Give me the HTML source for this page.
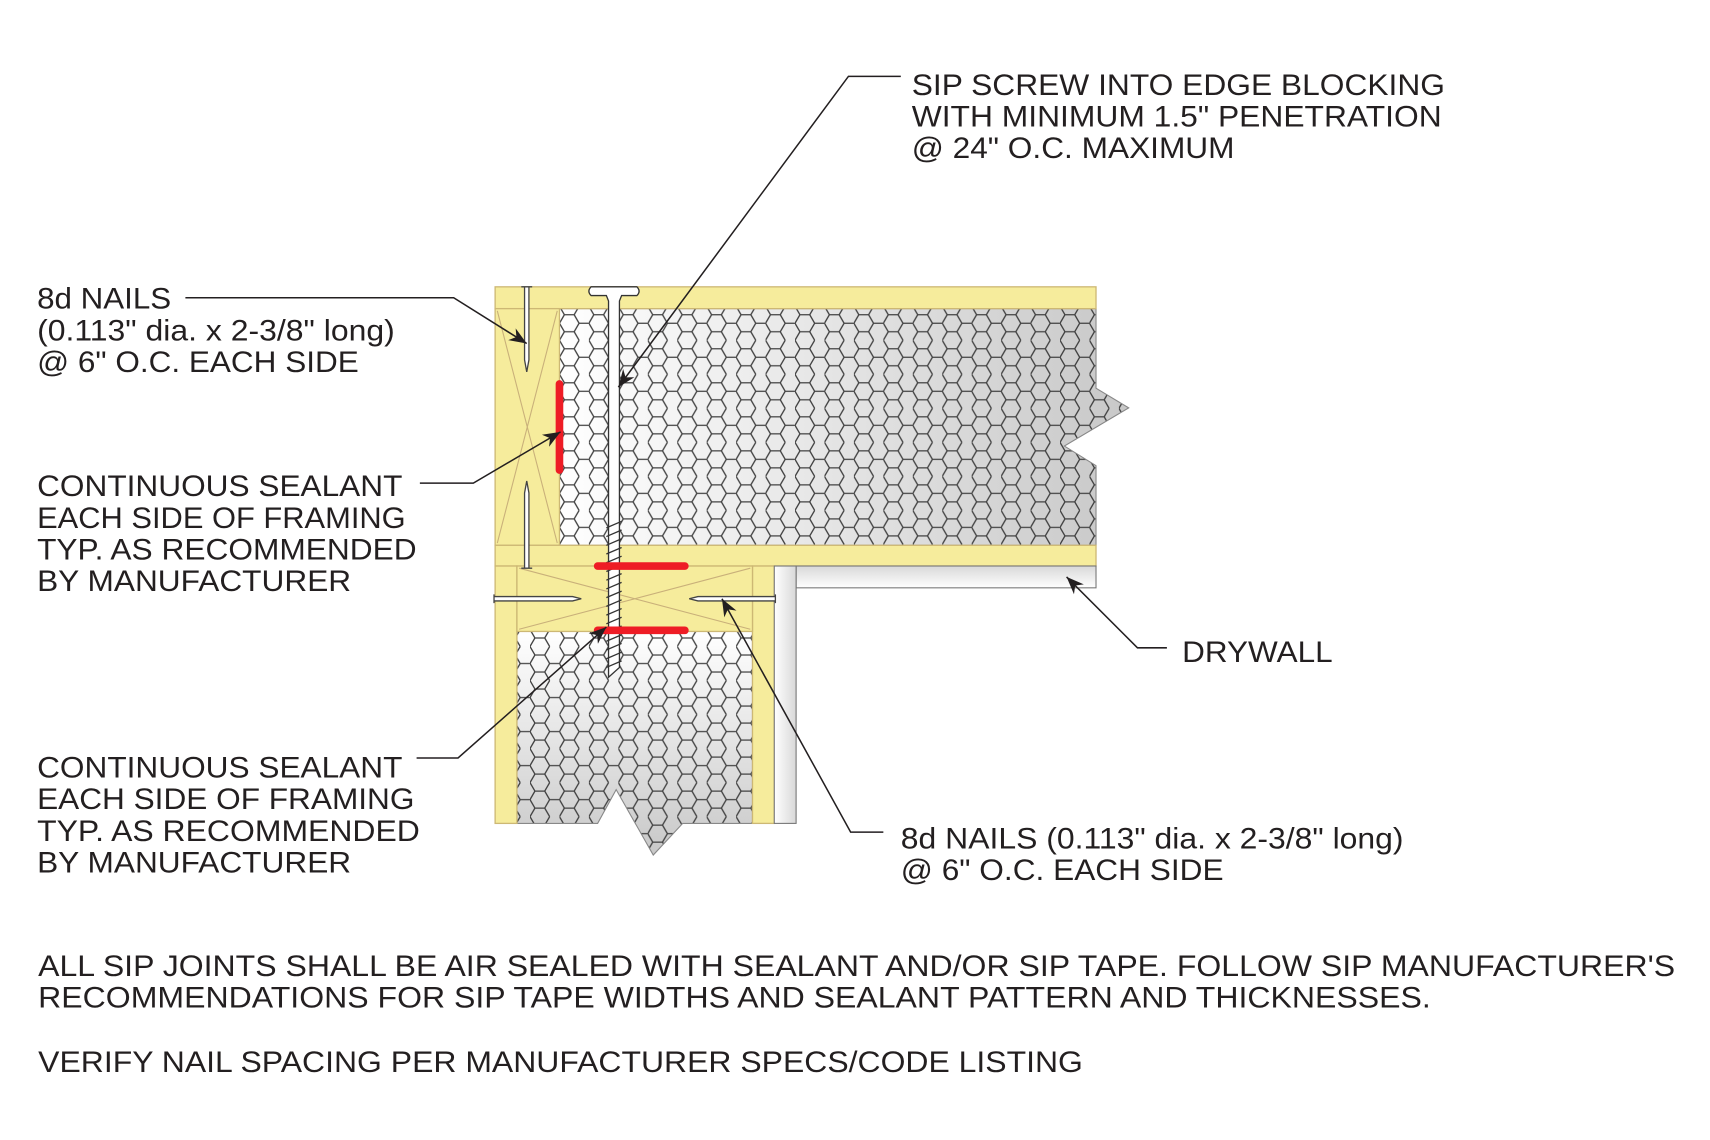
<!DOCTYPE html>
<html><head><meta charset="utf-8"><style>
html,body{margin:0;padding:0;background:#fff;}
svg{display:block;}
text{font-family:"Liberation Sans",Arial,sans-serif;font-size:27px;fill:#231f20;}
</style></head><body>
<svg width="1710" height="1140" viewBox="0 0 1568 1045.3" preserveAspectRatio="none" xmlns="http://www.w3.org/2000/svg">
<defs>
<pattern id="hex" width="27" height="31.2" patternUnits="userSpaceOnUse">
<path d="M0,0 L4.5,7.8 L13.5,7.8 L18,0 M13.5,7.8 L18,15.6 L13.5,23.4 L4.5,23.4 L0,15.6 L4.5,7.8 M18,15.6 L27,15.6 M13.5,23.4 L18,31.2 M4.5,23.4 L0,31.2" fill="none" stroke="#404040" stroke-width="1.2"/>
</pattern>
<linearGradient id="fg" x1="0" x2="1" y1="0" y2="0"><stop offset="0" stop-color="#ffffff"/><stop offset="1" stop-color="#c8c8c8"/></linearGradient>
<linearGradient id="fg2" x1="0" x2="0" y1="0" y2="1"><stop offset="0" stop-color="#ffffff"/><stop offset="1" stop-color="#c8c8c8"/></linearGradient>
<linearGradient id="dw" x1="0" x2="0" y1="0" y2="1"><stop offset="0" stop-color="#d8d8d8"/><stop offset="1" stop-color="#ffffff"/></linearGradient>
<linearGradient id="dwv" x1="0" x2="1" y1="0" y2="0"><stop offset="0" stop-color="#ffffff"/><stop offset="1" stop-color="#d8d8d8"/></linearGradient>
<marker id="ar" viewBox="0 0 10 10" refX="10" refY="5" markerWidth="16" markerHeight="16" orient="auto-start-reverse" markerUnits="userSpaceOnUse"><path d="M0,1 L10,5 L0,9 L3,5 z" fill="#231f20"/></marker>
</defs>

<path d="M513,283 L1005,283 L1005,356 L1035,374 L976,409 L1005,427 L1005,500 L513,500 Z" fill="url(#fg)"/>
<path d="M513,283 L1005,283 L1005,356 L1035,374 L976,409 L1005,427 L1005,500 L513,500 Z" fill="url(#hex)" stroke="#888" stroke-width="1"/>
<rect x="454" y="263" width="551" height="20" fill="#f6ec9c" stroke="#cdb874" stroke-width="1.2"/>
<rect x="454" y="283" width="59" height="217" fill="#f6ec9c" stroke="#cdb874" stroke-width="1.2"/>
<path d="M456,285 L511,498 M511,285 L456,498" stroke="#c9b07a" stroke-width="1" fill="none"/>
<rect x="454" y="500" width="551" height="19" fill="#f6ec9c" stroke="#cdb874" stroke-width="1.2"/>
<rect x="730" y="519" width="275" height="20" fill="url(#dw)" stroke="#777" stroke-width="1"/>

<path d="M474,579 L690,579 L690,755 L626,755 L599,784 L565,724 L548,755 L474,755 Z" fill="url(#fg2)"/>
<path d="M474,579 L690,579 L690,755 L626,755 L599,784 L565,724 L548,755 L474,755 Z" fill="url(#hex)" stroke="#888" stroke-width="1"/>
<rect x="454" y="519" width="20" height="236" fill="#f6ec9c" stroke="#cdb874" stroke-width="1.2"/>
<rect x="690" y="519" width="20" height="236" fill="#f6ec9c" stroke="#cdb874" stroke-width="1.2"/>
<rect x="710" y="519" width="20" height="236" fill="url(#dwv)" stroke="#777" stroke-width="1"/>
<rect x="474" y="519" width="216" height="60" fill="#f6ec9c" stroke="#cdb874" stroke-width="1.2"/>
<path d="M476,521 L688,577 M688,521 L476,577" stroke="#c9b07a" stroke-width="1" fill="none"/>

<path d="M542,263 L584,263 Q588,267 584,271 L570,271 L568,276 L568,612 L558,621 L558,276 L556,271 L542,271 Q538,267 542,263 Z" fill="#fff" stroke="#333" stroke-width="1.2"/>
<g stroke="#333" stroke-width="1.2">
<path d="M556,484 L570,478 M556,492 L570,486 M556,500 L570,494 M556,508 L570,502 M556,516 L570,510 M556,524 L570,518 M556,532 L570,526 M556,540 L570,534 M556,548 L570,542 M556,556 L570,550 M556,564 L570,558 M556,572 L570,566 M556,580 L570,574 M556,588 L570,582 M556,596 L570,590 M556,604 L570,598 M556,612 L570,606"/>
</g>

<path d="M478,263 L488,263 M481,263 L481,330 L483,341 L485,330 L485,263" fill="#fff" stroke="#444" stroke-width="1.2"/>
<path d="M478,521 L488,521 M481,521 L481,452 L483,441 L485,452 L485,521" fill="#fff" stroke="#444" stroke-width="1.2"/>
<path d="M453,545 L453,553 M453,547 L525,547 L533,549 L525,551 L453,551" fill="#fff" stroke="#444" stroke-width="1.2"/>
<path d="M711,545 L711,553 M711,547 L640,547 L632,549 L640,551 L711,551" fill="#fff" stroke="#444" stroke-width="1.2"/>

<g stroke="#ee1c25" stroke-width="7" stroke-linecap="round">
<line x1="513" y1="352" x2="513" y2="431"/>
<line x1="548" y1="519" x2="628" y2="519"/>
<line x1="548" y1="578" x2="628" y2="578"/>
</g>

<g stroke="#231f20" stroke-width="1.4" fill="none">
<polyline points="826,70 778,70 567,355" marker-end="url(#ar)"/>
<polyline points="170,273 416,273 483,315" marker-end="url(#ar)"/>
<polyline points="385,443 434,443 514,396" marker-end="url(#ar)"/>
<polyline points="382,695 420,695 556,575" marker-end="url(#ar)"/>
<polyline points="810,763 780,763 662,549" marker-end="url(#ar)"/>
<polyline points="1070,594 1043,594 978,529" marker-end="url(#ar)"/>
</g>

<text x="836" y="87" textLength="489" lengthAdjust="spacingAndGlyphs">SIP SCREW INTO EDGE BLOCKING</text>
<text x="836" y="116" textLength="486" lengthAdjust="spacingAndGlyphs">WITH MINIMUM 1.5" PENETRATION</text>
<text x="836" y="145" textLength="296" lengthAdjust="spacingAndGlyphs">@ 24" O.C. MAXIMUM</text>

<text x="34" y="283" textLength="123" lengthAdjust="spacingAndGlyphs">8d NAILS</text>
<text x="34" y="312" textLength="328" lengthAdjust="spacingAndGlyphs">(0.113" dia. x 2-3/8" long)</text>
<text x="34" y="341" textLength="295" lengthAdjust="spacingAndGlyphs">@ 6" O.C. EACH SIDE</text>

<text x="34" y="455" textLength="335" lengthAdjust="spacingAndGlyphs">CONTINUOUS SEALANT</text>
<text x="34" y="484" textLength="338" lengthAdjust="spacingAndGlyphs">EACH SIDE OF FRAMING</text>
<text x="34" y="513" textLength="348" lengthAdjust="spacingAndGlyphs">TYP. AS RECOMMENDED</text>
<text x="34" y="542" textLength="288" lengthAdjust="spacingAndGlyphs">BY MANUFACTURER</text>

<text x="34" y="713" textLength="335" lengthAdjust="spacingAndGlyphs">CONTINUOUS SEALANT</text>
<text x="34" y="742" textLength="346" lengthAdjust="spacingAndGlyphs">EACH SIDE OF FRAMING</text>
<text x="34" y="771" textLength="351" lengthAdjust="spacingAndGlyphs">TYP. AS RECOMMENDED</text>
<text x="34" y="800" textLength="288" lengthAdjust="spacingAndGlyphs">BY MANUFACTURER</text>

<text x="1084" y="607" textLength="138" lengthAdjust="spacingAndGlyphs">DRYWALL</text>

<text x="826" y="778" textLength="461" lengthAdjust="spacingAndGlyphs">8d NAILS (0.113" dia. x 2-3/8" long)</text>
<text x="826" y="807" textLength="296" lengthAdjust="spacingAndGlyphs">@ 6" O.C. EACH SIDE</text>

<text x="35" y="895" textLength="1501" lengthAdjust="spacingAndGlyphs">ALL SIP JOINTS SHALL BE AIR SEALED WITH SEALANT AND/OR SIP TAPE. FOLLOW SIP MANUFACTURER'S</text>
<text x="35" y="924" textLength="1277" lengthAdjust="spacingAndGlyphs">RECOMMENDATIONS FOR SIP TAPE WIDTHS AND SEALANT PATTERN AND THICKNESSES.</text>
<text x="35" y="983" textLength="958" lengthAdjust="spacingAndGlyphs">VERIFY NAIL SPACING PER MANUFACTURER SPECS/CODE LISTING</text>
</svg>
</body></html>
